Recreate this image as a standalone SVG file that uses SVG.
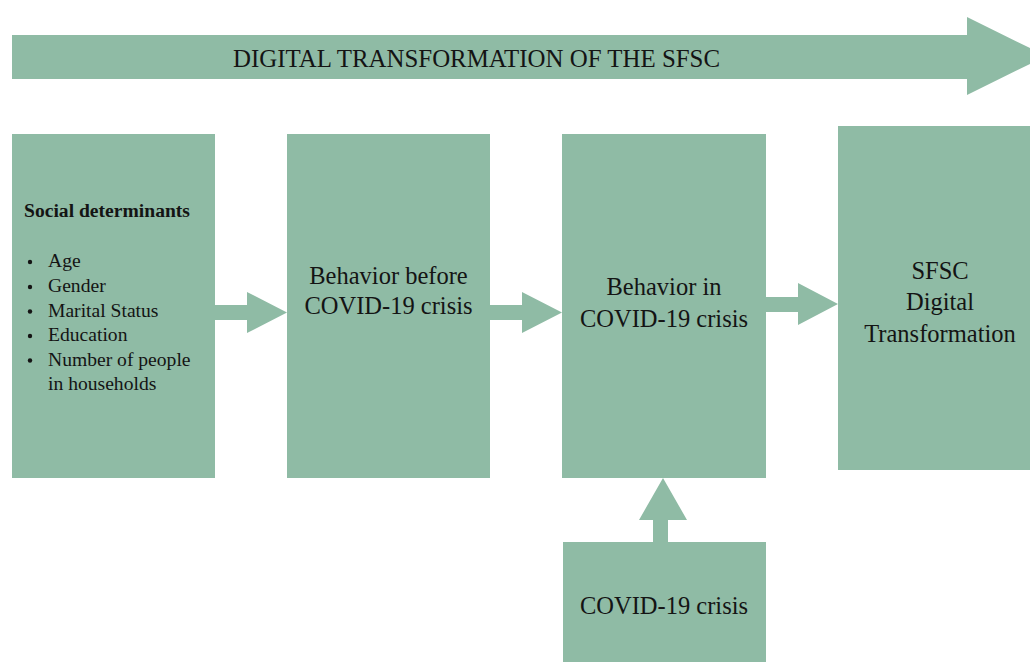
<svg xmlns="http://www.w3.org/2000/svg" width="1030" height="662" viewBox="0 0 1030 662">
<style>
.box{fill:#8fbba5}
.arr{fill:#8fbba5}
.txt{font-family:'Liberation Serif','DejaVu Serif',serif;fill:#141414}
.t{font-size:24.5px;text-anchor:middle}
.l{font-size:19.6px}
.b{font-size:19.6px;font-weight:bold}
</style>
<rect width="1030" height="662" fill="#ffffff"/>
<g id="banner">
<polygon class="arr" points="12,35 967,35 967,17 1046,56 967,95 967,79 12,79"/>
<text class="txt" x="233" y="67" font-size="25.5" textLength="487" lengthAdjust="spacingAndGlyphs">DIGITAL TRANSFORMATION OF THE SFSC</text>
</g>
<g id="connectors">
<polygon class="arr" points="215,305 247,305 247,292 287,312.5 247,333 247,320 215,320"/>
<polygon class="arr" points="490,305 522,305 522,292 562,312.5 522,333 522,320 490,320"/>
<polygon class="arr" points="766,297 798,297 798,283 838,304 798,325 798,312 766,312"/>
<polygon class="arr" points="653,542 653,520 639,520 663,478 687,520 668,520 668,542"/>
</g>
<g id="social-determinants">
<rect class="box" x="12" y="134" width="203" height="344"/>
<text class="txt b" x="24" y="217">Social determinants</text>
<circle cx="30" cy="262" r="2.2" fill="#141414"/>
<circle cx="30" cy="287" r="2.2" fill="#141414"/>
<circle cx="30" cy="311.5" r="2.2" fill="#141414"/>
<circle cx="30" cy="336" r="2.2" fill="#141414"/>
<circle cx="30" cy="360.5" r="2.2" fill="#141414"/>
<text class="txt l" x="48" y="267">Age</text>
<text class="txt l" x="48" y="292">Gender</text>
<text class="txt l" x="48" y="316.5">Marital Status</text>
<text class="txt l" x="48" y="341">Education</text>
<text class="txt l" x="48" y="365.5">Number of people</text>
<text class="txt l" x="48" y="390">in households</text>
</g>
<g id="behavior-before">
<rect class="box" x="287" y="134" width="203" height="344"/>
<text class="txt t" x="388.5" y="284">Behavior before</text>
<text class="txt t" x="388.5" y="314">COVID-19 crisis</text>
</g>
<g id="behavior-in">
<rect class="box" x="562" y="134" width="204" height="344"/>
<text class="txt t" x="664" y="295">Behavior in</text>
<text class="txt t" x="664" y="327">COVID-19 crisis</text>
</g>
<g id="sfsc-digital">
<rect class="box" x="838" y="126" width="192" height="344"/>
<text class="txt t" x="940" y="279">SFSC</text>
<text class="txt t" x="940" y="310">Digital</text>
<text class="txt t" x="940" y="342">Transformation</text>
</g>
<g id="covid-crisis">
<rect class="box" x="563" y="542" width="203" height="120"/>
<text class="txt t" x="664" y="614">COVID-19 crisis</text>
</g>
</svg>
